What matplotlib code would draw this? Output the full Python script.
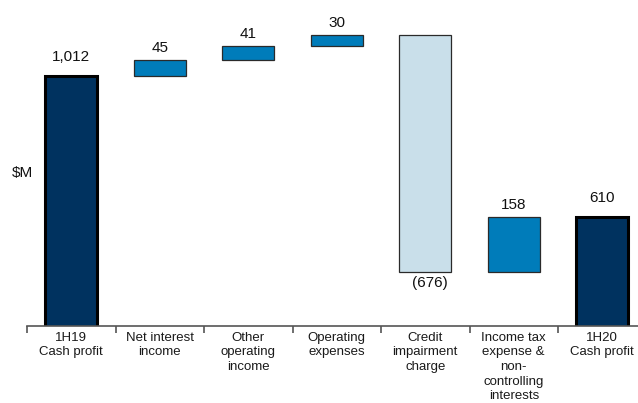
import matplotlib
matplotlib.use("Agg")
import matplotlib.pyplot as plt
import numpy as np

categories = ["1H19\nCash profit", "Net interest\nincome", "Other\noperating\nincome",
              "Operating\nexpenses", "Credit\nimpairment\ncharge",
              "Income tax\nexpense &\nnon-\ncontrolling\ninterests", "1H20\nCash profit"]
changes = [1012, 45, 41, 30, -676, 158, 610]
labels = ["1,012", "45", "41", "30", "(676)", "158", "610"]
kinds = ["total", "delta", "delta", "delta", "neg", "delta", "total"]

plt.rcParams['font.family'] = ['Liberation Sans', 'DejaVu Sans']

fig = plt.figure(figsize=(6.38, 4.03), dpi=100)
W, H = 638, 403
x0, base_y = 27, 326
catw = 88.5
ax = fig.add_axes([x0 / W, (H - base_y) / H, 7 * catw / W, base_y / H])

colors = {"total": "#00325F", "delta": "#007CBA", "neg": "#C9DFEA"}
edges = {"total": "#000000", "delta": "#2a2a2a", "neg": "#2a2a2a"}
lws = {"total": 2.2, "delta": 0.9, "neg": 0.9}

x = np.arange(len(categories))
running = 0
bw = 0.59
for i, (c, k, lab) in enumerate(zip(changes, kinds, labels)):
    if k == "total":
        bottom, height = 0, c
        running = c
        top = c
    else:
        bottom = running if c > 0 else running + c
        height = abs(c)
        top = running + c if c > 0 else running
        running += c
    ax.bar(x[i], height, bottom=bottom, width=bw, color=colors[k],
           edgecolor=edges[k], linewidth=lws[k], zorder=2)
    if k == "neg":
        ax.annotate(lab, (x[i], bottom), xytext=(3, -11 * 0.72), textcoords="offset points",
                    ha="center", va="center", fontsize=11, color="#111111")
    else:
        off = 19 if k == "total" else 12
        ax.annotate(lab, (x[i], top), xytext=(0, off * 0.72), textcoords="offset points",
                    ha="center", va="center", fontsize=11, color="#111111")

ax.set_xlim(-0.5, 6.5)
ax.set_ylim(298, 1228)
for s in ["left", "right", "top"]:
    ax.spines[s].set_visible(False)
ax.spines["bottom"].set_color("#555555")
ax.spines["bottom"].set_linewidth(1.2)
ax.set_yticks([])
ax.set_xticks(x)
ax.set_xticklabels(categories, fontsize=9.5, color="#1a1a1a", linespacing=1.3)
ax.tick_params(axis="x", which="major", length=0, pad=4)
ax.set_xticks(np.arange(-0.5, 7, 1), minor=True)
ax.tick_params(axis="x", which="minor", length=5, width=1.2, color="#555555")

fig.text(22 / W, 1 - 173 / H, "$M", ha="center", va="center", fontsize=11, color="#111111")

fig.savefig("out.png", dpi=100)
